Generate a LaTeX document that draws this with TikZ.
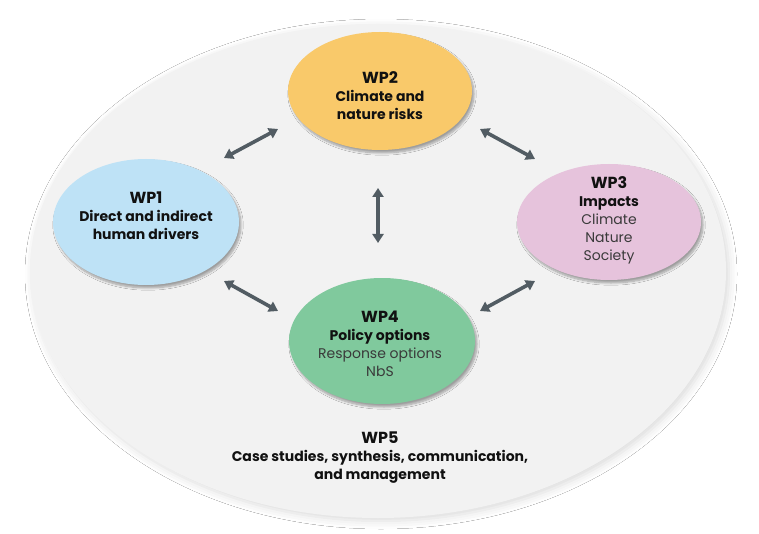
\documentclass[tikz,border=0pt]{standalone}
\usepackage{fontspec}
\setmainfont{Poppins}
\usetikzlibrary{arrows.meta,shadows.blur,shapes.geometric}
\definecolor{bgc}{HTML}{F2F2F2}
\definecolor{wpone}{HTML}{BEE2F6}
\definecolor{wptwo}{HTML}{F9C96A}
\definecolor{wpthree}{HTML}{E6C3DC}
\definecolor{wpfour}{HTML}{80C99D}
\definecolor{arr}{HTML}{525C63}
\definecolor{txt}{HTML}{111111}
\definecolor{ltxt}{HTML}{3A3A3A}
\newcommand{\wpttl}[1]{{\fontsize{16}{18}\selectfont\bfseries #1}}
\newcommand{\wplt}[1]{{\color{ltxt}#1}}
\tikzset{
  wp/.style={ellipse, draw=none, blur shadow={shadow xshift=2pt, shadow yshift=-3pt, shadow blur steps=8, shadow opacity=35}},
  wptext/.style={align=center, text=txt, font=\fontsize{14}{18}\selectfont},
  conn/.style={arr, line width=3.6pt, {Triangle[length=9pt,width=11pt]}-{Triangle[length=9pt,width=11pt]}},
}
\begin{document}
\begin{tikzpicture}[x=1pt,y=-1pt]
\useasboundingbox (0,0) rectangle (759,534);
\fill[white] (0,0) rectangle (759,534);
% big ellipse
\node[ellipse, fill=bgc, minimum width=696pt, minimum height=494pt, blur shadow={shadow xshift=3pt, shadow yshift=-3pt, shadow blur radius=8pt, shadow opacity=14}] (wp5) at (378,271) {};
\node[wptext] (wp5t) at (380,458) {\wpttl{WP5}\\\bfseries Case studies, synthesis, communication,\\\bfseries and management};
% work packages
\node[wp, fill=wptwo, minimum width=184pt, minimum height=118pt] (wp2) at (380,91) {};
\node[wptext] (wp2t) at (380,96) {\wpttl{WP2}\\\bfseries Climate and\\\bfseries nature risks};
\node[wp, fill=wpone, minimum width=186pt, minimum height=126pt] (wp1) at (146,222) {};
\node[wptext] (wp1t) at (146,216) {\wpttl{WP1}\\\bfseries Direct and indirect\\\bfseries human drivers};
\node[wp, fill=wpthree, minimum width=184pt, minimum height=116pt] (wp3) at (609,222) {};
\node[wptext] (wp3t) at (609,220) {\wpttl{WP3}\\\bfseries Impacts\\\wplt{Climate}\\\wplt{Nature}\\\wplt{Society}};
\node[wp, fill=wpfour, minimum width=186pt, minimum height=126pt] (wp4) at (382,341) {};
\node[wptext] (wp4t) at (380,344) {\wpttl{WP4}\\\bfseries Policy options\\\wplt{Response options}\\\wplt{NbS}};
% arrow end points
\coordinate (a1) at (224,158); \coordinate (b1) at (278,129);
\coordinate (a2) at (480,129); \coordinate (b2) at (535,159);
\coordinate (a3) at (378,188); \coordinate (b3) at (378,243);
\coordinate (a4) at (224,281); \coordinate (b4) at (278,311);
\coordinate (a5) at (480,311); \coordinate (b5) at (535,281);
\draw[conn] (a1) -- (b1);
\draw[conn] (a2) -- (b2);
\draw[conn] (a3) -- (b3);
\draw[conn] (a4) -- (b4);
\draw[conn] (a5) -- (b5);
\end{tikzpicture}
\end{document}
